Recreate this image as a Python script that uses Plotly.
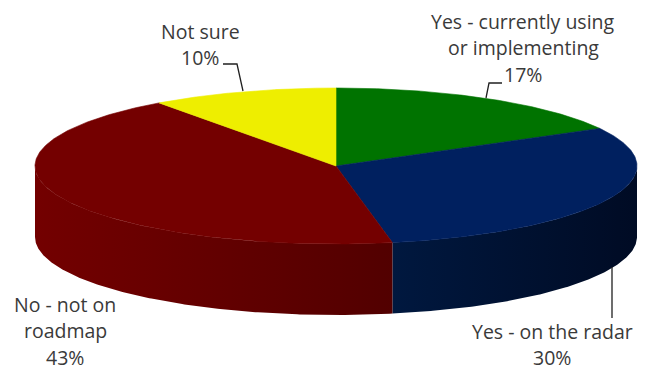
import numpy as np
import plotly.graph_objects as go

# Survey answers and their shares (percent)
labels = ["Yes - currently using<br>or implementing", "Yes - on the radar",
          "No - not on<br>roadmap", "Not sure"]
values = [17, 30, 43, 10]
top_colors = ["#007300", "#00205f", "#740000", "#eeee00"]
side_shades = [None, ["#00183f", "#000b24"], ["#730000", "#520000"], None]

# Pie geometry in pixel units (tilted disc)
W, H = 647, 371
cx, cy, rx, ry, depth = 336, 166, 301, 78, 71


def rim(t, drop=0.0):
    """Point on the ellipse rim; t is clockwise angle from 12 o'clock (rad)."""
    return cx + rx * np.sin(t), cy - ry * np.cos(t) + drop


fig = go.Figure()

total = sum(values)
bounds = np.concatenate([[0], np.cumsum(values)]) / total * 2 * np.pi

# Side walls (only the front half, between 3 and 9 o'clock, is visible)
for i, v in enumerate(values):
    a0, a1 = bounds[i], bounds[i + 1]
    s0, s1 = max(a0, np.pi / 2), min(a1, 3 * np.pi / 2)
    if s1 <= s0 or side_shades[i] is None:
        continue
    t = np.linspace(s0, s1, 200)
    xt, yt = rim(t)
    xb, yb = rim(t[::-1], depth)
    xs = np.concatenate([xt, xb, [xt[0]]])
    ys = np.concatenate([yt, yb, [yt[0]]])
    fig.add_trace(go.Scatter(
        x=xs, y=ys, mode="lines", fill="toself", line=dict(width=0),
        fillgradient=dict(type="horizontal",
                          colorscale=[[0, side_shades[i][0]], [1, side_shades[i][1]]],
                          start=xs.min(), stop=xs.max()),
        hoverinfo="skip", showlegend=False))

# Top face slices
for i, v in enumerate(values):
    a0, a1 = bounds[i], bounds[i + 1]
    t = np.linspace(a0, a1, 200)
    xt, yt = rim(t)
    xs = np.concatenate([[cx], xt, [cx]])
    ys = np.concatenate([[cy], yt, [cy]])
    fig.add_trace(go.Scatter(
        x=xs, y=ys, mode="lines", fill="toself",
        fillcolor=top_colors[i], line=dict(width=0.6, color=top_colors[i]),
        hoverinfo="skip", showlegend=False))

# Labels (name lines then percentage), placed line by line
label_pos = [(523, 21), (552, 331), (65, 304), (200, 31)]
line_gap = 26.5
font = dict(family="Open Sans, sans-serif", size=19.5, color="#3a3a3a")
annotations = []
for (lx, ly), name, v in zip(label_pos, labels, values):
    lines = name.split("<br>") + [f"{round(v / total * 100)}%"]
    for k, txt in enumerate(lines):
        yc = ly + k * line_gap
        ann = dict(x=lx, y=yc, text=txt, showarrow=False, borderpad=0,
                   xanchor="center", yanchor="middle", font=font)
        # keep the lowest line's box inside the page
        if yc + 13 > H:
            ann.update(y=H, yanchor="bottom")
        annotations.append(ann)

# Leader lines
leaders = [
    [(502, 83), (489, 83), (486, 98)],
    [(612, 267), (612, 318)],
    [(223, 64), (237, 64), (243, 91)],
]
shapes = []
for pts in leaders:
    path = "M " + " L ".join(f"{px},{py}" for px, py in pts)
    shapes.append(dict(type="path", path=path, xref="x", yref="y",
                       line=dict(color="#202020", width=1.3)))

fig.update_layout(
    width=W, height=H, margin=dict(l=0, r=0, t=0, b=0),
    paper_bgcolor="white", plot_bgcolor="white",
    xaxis=dict(range=[0, W], visible=False, fixedrange=True),
    yaxis=dict(range=[H, 0], visible=False, fixedrange=True),
    annotations=annotations, shapes=shapes,
)

fig.write_html("out.html")
